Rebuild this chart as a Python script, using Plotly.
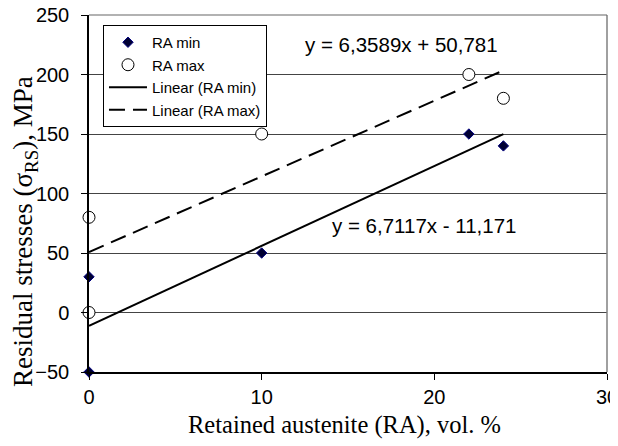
import numpy as np
import plotly.graph_objects as go

# Data
ra_min_x = [0, 0, 10, 22, 24]
ra_min_y = [30, -50, 50, 150, 140]
ra_max_x = [0, 0, 10, 22, 24]
ra_max_y = [80, 0, 150, 200, 180]

x_ticks = [0, 10, 20, 30]
y_ticks = [-50, 0, 50, 100, 150, 200, 250]

eq_min = "y = 6,7117x - 11,171"
eq_max = "y = 6,3589x + 50,781"
x_title = "Retained austenite (RA), vol. %"
y_title = "Residual stresses (σ<sub>RS</sub>), MPa"

# Linear fits (Excel-like trendlines over data range)
k1, b1 = np.polyfit(ra_min_x, ra_min_y, 1)
k2, b2 = np.polyfit(ra_max_x, ra_max_y, 1)
fx1 = np.array([min(ra_min_x), max(ra_min_x)])
fx2 = np.array([min(ra_max_x), max(ra_max_x)])

fig = go.Figure()
fig.add_trace(go.Scatter(x=ra_min_x, y=ra_min_y, mode="markers", name="RA min",
                         marker=dict(symbol="diamond", size=8, color="#000033",
                                     line=dict(color="#000080", width=1)),
                         cliponaxis=False))
fig.add_trace(go.Scatter(x=ra_max_x, y=ra_max_y, mode="markers", name="RA max",
                         marker=dict(symbol="circle", size=12, color="white",
                                     line=dict(color="black", width=1)),
                         cliponaxis=False))
fig.add_trace(go.Scatter(x=fx1, y=k1 * fx1 + b1, mode="lines", name="Linear (RA min)",
                         line=dict(color="black", width=2)))
fig.add_trace(go.Scatter(x=fx2, y=k2 * fx2 + b2, mode="lines", name="Linear (RA max)",
                         line=dict(color="black", width=2, dash="16px,8px")))

eq_font = dict(family="Liberation Sans, Arial", size=20.5, color="black")
fig.add_annotation(x=12.4, y=225.5, xref="x", yref="y", text=eq_max, showarrow=False,
                   xanchor="left", yanchor="middle", font=eq_font)
fig.add_annotation(x=13.95, y=73.5, xref="x", yref="y", text=eq_min, showarrow=False,
                   xanchor="left", yanchor="middle", font=eq_font)

fig.add_annotation(x=0.494, y=-0.148, xref="paper", yref="paper", text=x_title,
                   showarrow=False, xanchor="center", yanchor="middle",
                   font=dict(family="Liberation Serif, Times New Roman", size=24.5, color="black"))
fig.add_annotation(x=-0.1236, y=0.395, xref="paper", yref="paper", text=y_title,
                   showarrow=False, xanchor="center", yanchor="middle", textangle=-90,
                   font=dict(family="Liberation Serif, Times New Roman", size=27, color="black"))

# top and right border of plot area
fig.add_shape(type="line", xref="paper", yref="paper", x0=1, x1=1, y0=0, y1=1,
              line=dict(color="#808080", width=1.5))
fig.add_shape(type="line", xref="paper", yref="paper", x0=0, x1=1, y0=1, y1=1,
              line=dict(color="#666666", width=1.2))

# page body has an 8px margin: figure is sized so the plot lands where the reference has it
fig.update_layout(
    width=610, height=438,
    margin=dict(l=81, r=11, t=7, b=74, autoexpand=False),
    paper_bgcolor="white", plot_bgcolor="white",
    font=dict(family="Liberation Sans, Arial", size=20, color="black"),
    showlegend=True,
    legend=dict(x=0.027, y=0.972, xanchor="left", yanchor="top",
                bgcolor="white", bordercolor="black", borderwidth=1,
                font=dict(family="Liberation Sans, Arial", size=15, color="black"),
                itemwidth=38, tracegroupgap=0),
)
fig.update_xaxes(range=[0, 30], tickvals=x_ticks, ticks="outside", ticklen=6,
                 tickcolor="black", showline=True, linecolor="black", linewidth=1.5,
                 showgrid=False, zeroline=False, automargin=False,
                 ticklabeloverflow="allow")
fig.update_yaxes(range=[-50, 250], tickvals=y_ticks, ticks="outside", ticklen=6,
                 tickcolor="black", showline=True, linecolor="black", linewidth=1.5,
                 showgrid=True, gridcolor="#444444", gridwidth=1, zeroline=False,
                 automargin=False, ticklabelstandoff=8, ticklabeloverflow="allow")

fig.write_html("out.html")
